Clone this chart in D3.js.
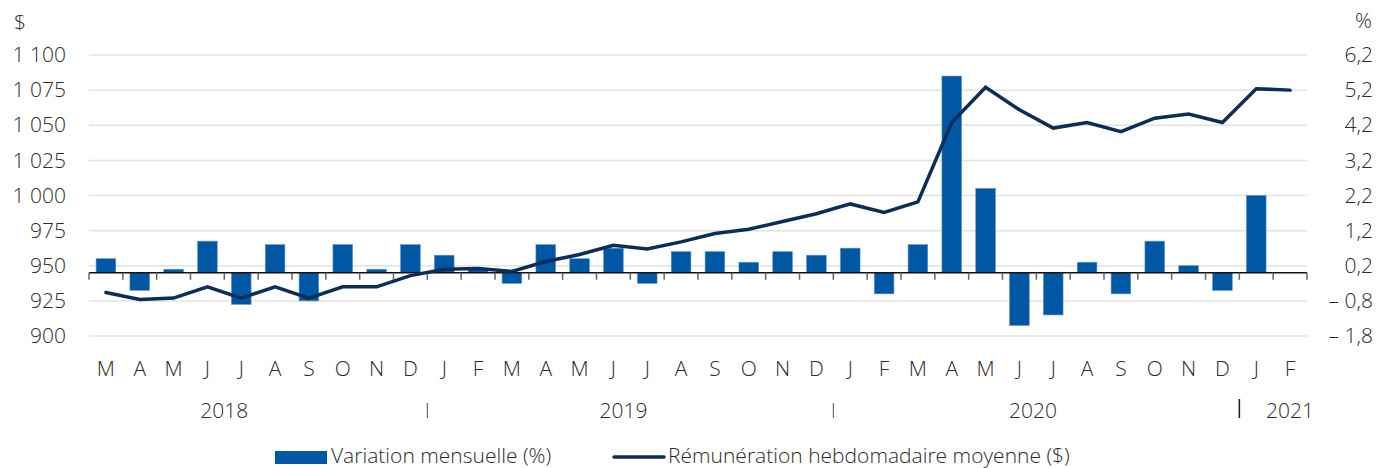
<!DOCTYPE html>
<html>
<head>
<meta charset="utf-8">
<script src="https://cdn.jsdelivr.net/npm/d3@7"></script>
<style>
body { margin:0; background:#fff; }
text { font-family:"Open Sans", sans-serif; font-weight:300; fill:#2b2b2b; }
</style>
</head>
<body>
<script>
var months = ["M","A","M","J","J","A","S","O","N","D",
	"J","F","M","A","M","J","J","A","S","O","N","D",
	"J","F","M","A","M","J","J","A","S","O","N","D",
	"J","F"];
var years = ["2018","2019","2020","2021"];
// variation mensuelle (%)
var pct = [0.4,-0.5,0.1,0.9,-0.9,0.8,-0.8,0.8,0.1,0.8,
	0.5,0.1,-0.3,0.8,0.4,0.7,-0.3,0.6,0.6,0.3,0.6,0.5,
	0.7,-0.6,0.8,5.6,2.4,-1.5,-1.2,0.3,-0.6,0.9,0.2,-0.5,
	2.2,0];
// rémunération hebdomadaire moyenne ($)
var wage = [931,926,927,935,927,935,927,935,935,943,
	947.5,948,946,953,958,964.5,962,967,973,976,981.5,987,
	994,988,995.5,1052,1077,1061,1048,1052,1045.5,1055,1058,1052,
	1076,1075];
var leftTicks = [900,925,950,975,1000,1025,1050,1075,1100];
var rightTicks = [-1.8,-0.8,0.2,1.2,2.2,3.2,4.2,5.2,6.2];

var W = 1386, H = 468;
var barColor = "#0058a5", lineColor = "#0c2d5a";
var fs = "21px";

var svg = d3.select("body")
	.append("svg")
	.attr("width", W)
	.attr("height", H);

var x = d3.scaleBand()
	.domain(d3.range(months.length))
	.range([89, 1307])
	.paddingInner(0.42)
	.paddingOuter(0.21);
var step = x.step();

var yL = d3.scaleLinear().domain([900, 1100]).range([336, 55]);
var yR = d3.scaleLinear().domain([-1.8, 6.2]).range([336, 55]);

// gridlines
svg.append("g").selectAll("line").data(leftTicks)
	.enter().append("line")
	.attr("x1", 89).attr("x2", 1307)
	.attr("y1", function(d){ return yL(d); })
	.attr("y2", function(d){ return yL(d); })
	.attr("stroke", "#e2e2e2")
	.attr("stroke-width", 1.5);

// left axis
var fmtL = function(d){ return d >= 1000 ? "1 " + d3.format("03d")(d - 1000) : d; };
var axL = svg.append("g")
	.attr("transform", "translate(66,0)")
	.call(d3.axisLeft(yL).tickValues(leftTicks).tickSize(0).tickFormat(fmtL));
axL.select(".domain").remove();
axL.selectAll("text").attr("x", 0).style("font-size", fs).attr("fill", null);

// right axis
var fmtR = function(d){
	var s = d3.format(".1f")(Math.abs(d)).replace(".", ",");
	return d < 0 ? "\u2013 " + s : s;
};
var axR = svg.append("g")
	.attr("transform", "translate(1373,0)")
	.call(d3.axisLeft(yR).tickValues(rightTicks).tickSize(0).tickFormat(fmtR));
axR.select(".domain").remove();
axR.selectAll("text").attr("x", 0).style("font-size", fs).attr("fill", null);

svg.append("text").attr("x", 14).attr("y", 30).style("font-size", fs).text("$");
svg.append("text").attr("x", 1372).attr("y", 28).attr("text-anchor", "end").style("font-size", fs).text("%");

// bars
svg.append("g").selectAll("rect").data(pct)
	.enter().append("rect")
	.attr("x", function(d, i){ return x(i); })
	.attr("width", x.bandwidth())
	.attr("y", function(d){ return yR(Math.max(0, d)); })
	.attr("height", function(d){ return Math.abs(yR(d) - yR(0)); })
	.attr("fill", barColor)
	.attr("stroke", "#5a8ec6")
	.attr("stroke-width", 0.6);

// baseline + ticks
var y0 = yR(0);
svg.append("line")
	.attr("x1", 89).attr("x2", 1307)
	.attr("y1", y0).attr("y2", y0)
	.attr("stroke", "#111").attr("stroke-width", 1.5);
svg.append("g").selectAll("line").data(d3.range(months.length + 1))
	.enter().append("line")
	.attr("x1", function(i){ return 89 + i * step; })
	.attr("x2", function(i){ return 89 + i * step; })
	.attr("y1", y0).attr("y2", y0 + 7)
	.attr("stroke", "#666").attr("stroke-width", 1.5);

// line
var line = d3.line()
	.x(function(d, i){ return x(i) + x.bandwidth() / 2; })
	.y(function(d){ return yL(d); });
svg.append("path")
	.datum(wage)
	.attr("d", line)
	.attr("fill", "none")
	.attr("stroke", lineColor)
	.attr("stroke-width", 3.5)
	.attr("stroke-linecap", "round");

// month labels
svg.append("g").selectAll("text").data(months)
	.enter().append("text")
	.attr("x", function(d, i){ return x(i) + x.bandwidth() / 2; })
	.attr("y", 376)
	.attr("text-anchor", "middle")
	.style("font-size", fs)
	.text(function(d){ return d; });

// year labels and separators
var sepIdx = [10, 22, 34];
svg.append("g").selectAll("line").data(sepIdx)
	.enter().append("line")
	.attr("x1", function(d){ return 89 + d * step; })
	.attr("x2", function(d){ return 89 + d * step; })
	.attr("y1", function(d, i){ return i == 2 ? 399 : 403; })
	.attr("y2", 418)
	.attr("stroke", function(d, i){ return i == 2 ? "#222" : "#555"; })
	.attr("stroke-width", function(d, i){ return i == 2 ? 1.6 : 1; });

var yearX = [
	89 + 4 * step,
	89 + 15.8 * step,
	89 + 27.9 * step,
	89 + 35.5 * step
];
svg.append("g").selectAll("text").data(years)
	.enter().append("text")
	.attr("x", function(d, i){ return yearX[i]; })
	.attr("y", 418)
	.attr("text-anchor", "middle")
	.style("font-size", fs)
	.text(function(d){ return d; });

// legend
svg.append("rect")
	.attr("x", 275).attr("y", 451).attr("width", 52).attr("height", 13)
	.attr("fill", barColor);
svg.append("text").attr("x", 331).attr("y", 463).style("font-size", fs)
	.text("Variation mensuelle (%)");
svg.append("line")
	.attr("x1", 614).attr("x2", 664).attr("y1", 457).attr("y2", 457)
	.attr("stroke", lineColor).attr("stroke-width", 3.5).attr("stroke-linecap", "round");
svg.append("text").attr("x", 668).attr("y", 463).style("font-size", fs)
	.text("Rémunération hebdomadaire moyenne ($)");
</script>
</body>
</html>
